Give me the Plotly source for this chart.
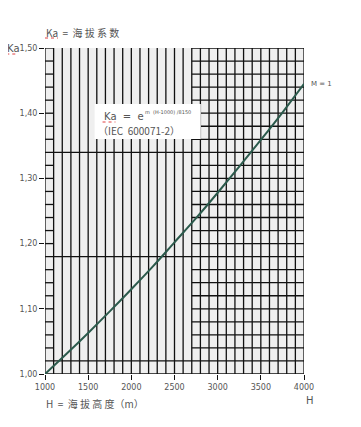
import plotly.graph_objects as go

# ---- data ----
H = [1000, 1250, 1500, 1750, 2000, 2250, 2500, 2750, 3000, 3250, 3500, 3750, 4000]
Ka = [1.000, 1.031, 1.063, 1.096, 1.130, 1.165, 1.202, 1.239, 1.278, 1.318, 1.359, 1.401, 1.445]
x_tick_vals = [1000, 1500, 2000, 2500, 3000, 3500, 4000]
x_tick_text = ["1000", "1500", "2000", "2500", "3000", "3500", "4000"]
y_tick_vals = [1.00, 1.10, 1.20, 1.30, 1.40, 1.50]
y_tick_text = ["1,00", "1,10", "1,20", "1,30", "1,40", "1,50"]
curve_label = "M = 1"

OFF = 8  # page body margin
W, HT = 361 - OFF, 427 - OFF
PL, PT, PR, PB = 43, 48, 304, 374   # plot area in screen pixels
L, T = PL - OFF, PT - OFF
PW, PH = PR - PL, PB - PT
R, B = W - L - PW, HT - T - PH

def px(x):
    return (x - PL) / PW

def py(y):
    return (PB - y) / PH

# ---- grid lines (data coordinates) ----
gx, gy = [], []
for v in range(1000, 4001, 100):
    gx += [v, v, None]
    gy += [1.0, 1.5, None]
for k in range(0, 26):
    yv = round(1.0 + 0.02 * k, 2)
    if yv in (1.00, 1.02, 1.18, 1.34):
        gx += [1000, 4000, None]
        gy += [yv, yv, None]
    else:
        gx += [1000, 1100, None, 2700, 4000, None]
        gy += [yv, yv, None, yv, yv, None]

fig = go.Figure()
fig.add_trace(go.Scatter(x=gx, y=gy, mode="lines", hoverinfo="skip",
                         line=dict(color="#111111", width=1.3), showlegend=False))

fig.add_trace(go.Scatter(x=H, y=Ka, mode="lines", line=dict(color="#2b5a4c", width=2, shape="spline"),
                         showlegend=False))

tick_font = dict(family="DejaVu Sans", size=8, color="#555555")
cjk = "Noto Sans CJK SC"

fig.update_layout(
    width=W, height=HT, autosize=False,
    margin=dict(l=L, r=R, t=T, b=B),
    paper_bgcolor="white", plot_bgcolor="#efefef",
    xaxis=dict(range=[1000, 4000], tickvals=x_tick_vals, ticktext=x_tick_text,
               showgrid=False, zeroline=False, ticks="outside", ticklen=5, tickcolor="#111",
               tickfont=tick_font, showline=False, fixedrange=True),
    yaxis=dict(range=[1.0, 1.5], tickvals=y_tick_vals, ticktext=y_tick_text,
               showgrid=False, zeroline=False, ticks="outside", ticklen=5, tickcolor="#111",
               tickfont=tick_font, showline=False, fixedrange=True),
)

# white label box covering part of grid
fig.add_shape(type="rect", xref="paper", yref="paper",
              x0=px(93), x1=px(200), y0=py(139), y1=py(104),
              fillcolor="white", line=dict(width=0), layer="above")

ann = []
def add(text, x, y, size, color="#555555", family="DejaVu Sans", xanchor="left", yanchor="middle"):
    ann.append(dict(text=text, x=px(x), y=py(y), xref="paper", yref="paper", showarrow=False,
                    xanchor=xanchor, yanchor=yanchor, font=dict(size=size, color=color, family=family)))

add("Ka  =  海 拔 系 数", 42, 32, 10, family=cjk)
add("Ka", 3, 48, 10)
add("Ka  =  e", 100, 116, 10)
add("m  (H-1000) /8150", 142, 112, 5)
add("（IEC  600071-2）", 94, 131, 10, family=cjk)
add(curve_label, 309, 84, 7)
add("H", 304, 400, 10)
add("H  =  海 拔 高 度（m）", 42, 403, 10, family=cjk)
fig.update_layout(annotations=ann)

# red wavy-ish underline marks under "Ka"
for x0, x1, y in [(43, 56, 38), (4, 16, 54), (101, 114, 122)]:
    fig.add_shape(type="line", xref="paper", yref="paper", x0=px(x0), x1=px(x1), y0=py(y), y1=py(y),
                  line=dict(color="#e04040", width=1, dash="dot"), layer="above")

fig.write_html("out.html")
